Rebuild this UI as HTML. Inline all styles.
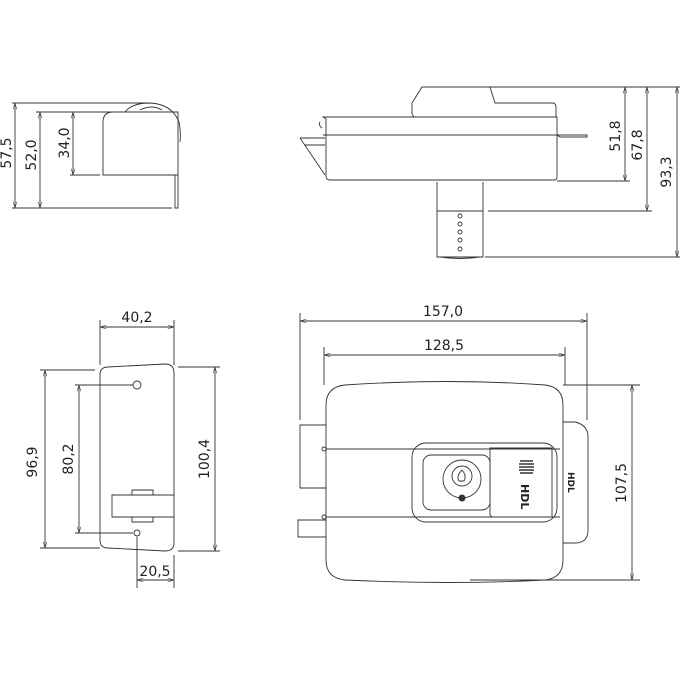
<!DOCTYPE html>
<html><head><style>body{margin:0;background:#fff}svg{display:block}text{font-family:"DejaVu Sans","Liberation Sans",sans-serif;font-size:14px;fill:#222}</style></head>
<body>
<svg width="680" height="680" viewBox="0 0 680 680" fill="none" stroke="#333" stroke-width="0.9">
<defs><marker id="a" viewBox="0 0 10 10" refX="10" refY="5" markerWidth="7" markerHeight="7" orient="auto-start-reverse"><path d="M0,2 L10,5 L0,8" fill="none" stroke="#333"/></marker></defs>
<g marker-start="url(#a)" marker-end="url(#a)">
<line x1="15" y1="103" x2="15" y2="208"/><line x1="40" y1="112" x2="40" y2="208"/><line x1="73" y1="112" x2="73" y2="175"/>
<line x1="625" y1="87" x2="625" y2="181"/><line x1="647" y1="87" x2="647" y2="211"/><line x1="677" y1="87" x2="677" y2="257"/>
<line x1="100" y1="327" x2="174" y2="327"/><line x1="45" y1="370" x2="45" y2="548"/><line x1="79" y1="385" x2="79" y2="533"/><line x1="215" y1="367" x2="215" y2="551"/><line x1="137" y1="580" x2="174" y2="580"/>
<line x1="300" y1="321" x2="587" y2="321"/><line x1="324" y1="355" x2="565" y2="355"/><line x1="632" y1="385" x2="632" y2="580"/>
</g>
<path d="M12 103H150M36 112H125M70 175H100M12 208H172"/>
<path d="M490 87H680M557 181H630M488 211H652M485 257H680"/>
<path d="M100 320V365M174 320V365M40 370H95M75 385H133M40 548H100M75 533H133M178 367H220M178 551H220M137 537V588M174 555V588"/>
<path d="M300 313V420M587 313V420M324 347V385M565 347V385M563 385H640M470 580H640"/>
<!-- top-left view -->
<path d="M103 175V122Q103 112 113 112H178V175Z"/>
<path d="M125 112Q132 103 150 103Q172 104 179 122Q181 132 180 142"/><path d="M140 110Q152 104 162 110"/>
<path d="M175 175V208H178V175"/>
<!-- top-right view -->
<path d="M412 103L422 87H490L495 103H553Q556 103 556 108V117"/>
<path d="M412 103V114L414 117"/>
<path d="M323 117H557V177Q557 180 554 180H330Q326 180 326 176V119Z"/>
<path d="M323 135H557L560 137H587V135H557"/>
<path d="M320 122Q318 125 322 128"/>
<path d="M300 138H325M300 138L325 175M305 145H325"/>
<path d="M437 182V257H483V182M437 211H483M440 257Q460 260 480 257"/>
<g fill="none"><circle cx="460" cy="216" r="2"/><circle cx="460" cy="224" r="2"/><circle cx="460" cy="232" r="2"/><circle cx="460" cy="240" r="2"/><circle cx="460" cy="249" r="2"/></g>
<!-- bottom-left plate -->
<path d="M108 367L165 364Q174 364 174 373V543Q174 551 165 551L108 548Q100 548 100 540V375Q100 367 108 367Z"/>
<circle cx="137" cy="385" r="4"/><circle cx="137" cy="533" r="3"/>
<path d="M174 495H112V517H174M132 495V490H153V495M132 517V522H153V517"/>
<!-- bottom-right front view -->
<path d="M345 385Q450 378 545 385Q563 387 563 405V560Q563 578 545 580Q450 585 345 580Q326 578 326 560V405Q326 387 345 385Z"/>
<path d="M563 422H575Q588 425 588 437V530Q588 543 575 543H563"/>
<path d="M326 425H300V488H326M326 520H298V537H326"/>
<path d="M326 449H560M326 517H560"/>
<circle cx="324" cy="449" r="2"/><circle cx="324" cy="517" r="2"/>
<rect x="412" y="443" width="145" height="79" rx="14"/>
<rect x="423" y="455" width="67" height="55" rx="8"/>
<circle cx="462" cy="479" r="19"/><circle cx="462" cy="476" r="10"/>
<path d="M459 481Q456 476 462 470Q467 476 464 481Z"/>
<circle cx="462" cy="498" r="3" fill="#333"/>
<path d="M490 448H552V517H492L490 515Z"/>
<g stroke-width="1.6"><path d="M520 461H533M519 464H534M519 467H534M519 470H534M520 473H533"/></g>
<g stroke="none"><text transform="translate(521,484) rotate(90)" style="font-size:11px;font-weight:bold">HDL</text><text transform="translate(568,472) rotate(90)" style="font-size:9px;font-weight:bold">HDL</text>
<text x="137" y="322" text-anchor="middle">40,2</text>
<text x="155" y="576" text-anchor="middle">20,5</text>
<text x="443" y="316" text-anchor="middle">157,0</text>
<text x="444" y="350" text-anchor="middle">128,5</text>
<text transform="translate(37,462) rotate(-90)" text-anchor="middle">96,9</text>
<text transform="translate(73,459) rotate(-90)" text-anchor="middle">80,2</text>
<text transform="translate(209,459) rotate(-90)" text-anchor="middle">100,4</text>
<text transform="translate(626,483) rotate(-90)" text-anchor="middle">107,5</text>
<text transform="translate(11,153) rotate(-90)" text-anchor="middle">57,5</text>
<text transform="translate(36,155) rotate(-90)" text-anchor="middle">52,0</text>
<text transform="translate(69,143) rotate(-90)" text-anchor="middle">34,0</text>
<text transform="translate(620,136) rotate(-90)" text-anchor="middle">51,8</text>
<text transform="translate(642,145) rotate(-90)" text-anchor="middle">67,8</text>
<text transform="translate(671,172) rotate(-90)" text-anchor="middle">93,3</text></g>
</svg>
</body></html>
